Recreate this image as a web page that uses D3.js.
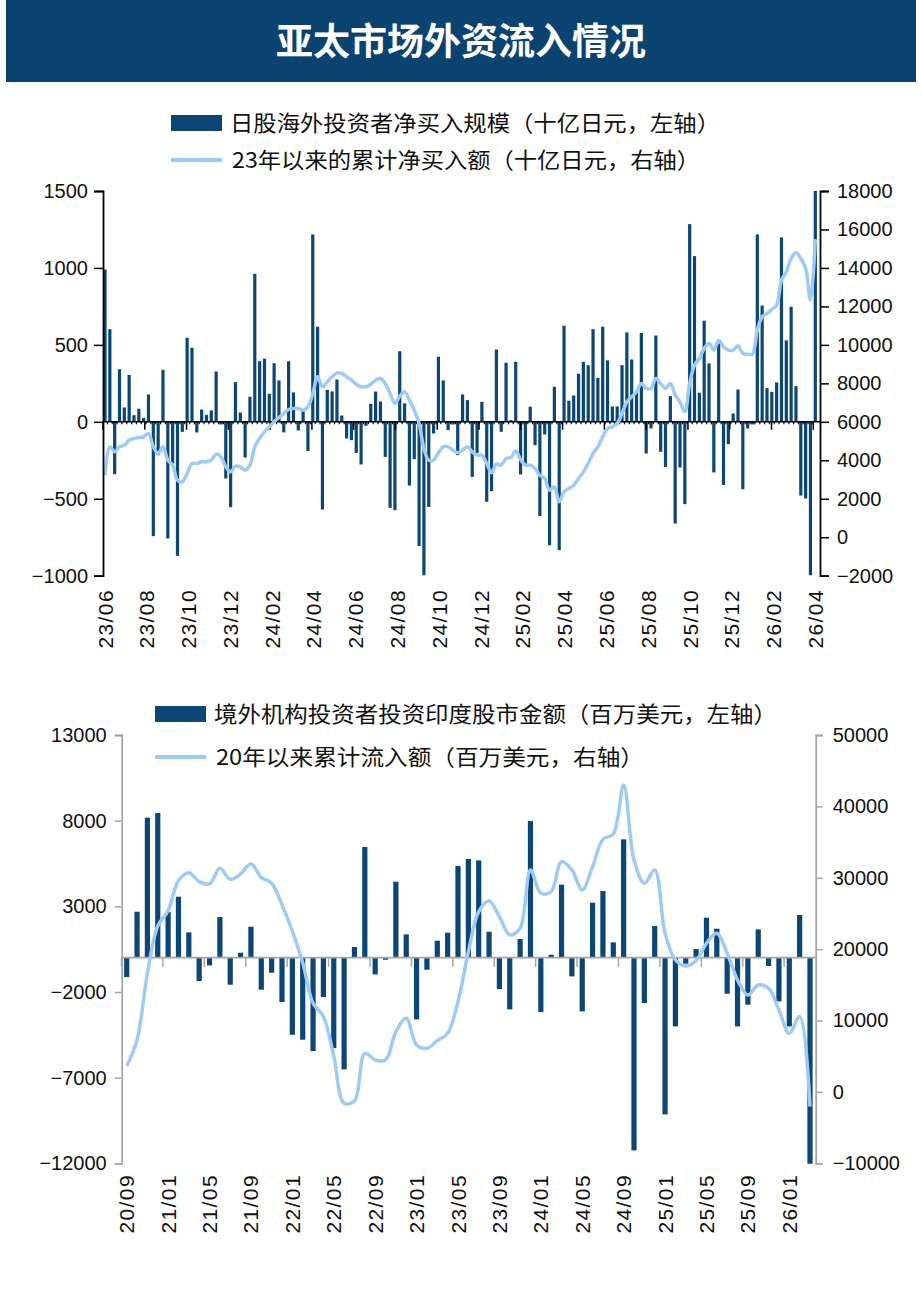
<!DOCTYPE html>
<html><head><meta charset="utf-8">
<script src="https://cdn.jsdelivr.net/npm/d3@7"></script>
<style>
body{margin:0;background:#fff}
svg{display:block}
.num{font-family:"Liberation Sans",Arial,sans-serif;font-size:20px;fill:#111}
.xl{font-size:21px;letter-spacing:1.4px}
.cjk{font-family:"Noto Sans CJK SC","Noto Sans",sans-serif;fill:#111}
</style>
</head><body><svg id="c" width="922" height="1308"></svg>
<script>
// ---------- Data: Japan (weekly, 十亿日元) ----------
const jpFlows = [990,602,-340,342,93,305,43,85,26,178,-743,-217,338,-758,-270,-871,-65,546,481,-69,
80,45,74,327,-17,-368,-555,258,61,-232,163,962,394,410,182,381,269,-69,394,191,
-56,76,-189,1218,618,-570,208,197,275,41,-108,-119,-202,-277,-26,117,197,132,-228,-559,
-574,459,120,-414,-243,-807,-997,-553,-76,423,269,-54,-17,-217,178,141,-358,-202,130,-520,
-451,470,-65,384,11,390,-342,-286,98,-152,-613,-82,-802,228,-834,624,137,171,312,390,
368,602,286,618,399,100,100,368,581,405,202,578,-206,-43,561,-195,-293,167,-661,-297,
-535,1285,1077,189,657,379,-329,509,-410,-145,54,210,-438,-43,-17,1218,756,219,195,256,
1198,529,748,232,-479,-498,-997,1500];
const jpCum = [3227,4700,4440,4700,4787,5047,5133,5185,5220,5393,4700,4353,4700,4007,3747,2967,2880,3313,3833,3833,
3920,3920,4007,4319,4180,3660,3400,3695,3660,3487,3747,4700,5133,5480,5740,6000,6225,6433,6641,6693,
6693,6607,6780,7473,8340,7820,8080,8340,8548,8513,8340,8166,7958,7820,7820,7958,8166,8253,7993,7473,
6953,7334,7560,7127,6607,5913,4613,4007,4007,4388,4700,4700,4527,4388,4527,4700,4440,4267,4267,3833,
3349,3799,3747,4093,4146,4492,4042,3747,3747,3574,3227,3054,2447,2621,1840,2361,2534,2707,3054,3400,
3833,4353,4700,5220,5653,5740,5913,6433,7040,7300,7560,7993,7733,7733,8253,7993,7733,7993,7386,7040,
6520,7993,8946,9293,9813,10073,9726,10246,9900,9726,9726,9951,9553,9518,9518,10766,11459,11632,11840,12066,
13365,13799,14492,14787,14492,13972,12326,15500];
const jpTickLabels = ["23/06","23/08","23/10","23/12","24/02","24/04","24/06","24/08","24/10","24/12",
"25/02","25/04","25/06","25/08","25/10","25/12","26/02","26/04"];
const jpLeftTicks = [-1000,-500,0,500,1000,1500];
const jpRightTicks = [-2000,0,2000,4000,6000,8000,10000,12000,14000,16000,18000];

// ---------- Data: India (monthly, 百万美元) ----------
const inFlows = [-1129,2685,8173,8446,2666,3561,1479,-1362,-448,2374,-1576,292,1810,-1868,-876,-2588,
-4495,-4787,-5449,-2296,-5274,-6519,623,6461,-973,-117,4437,1362,-3600,-700,992,1460,5352,5760,5682,
1518,-1829,-3016,1090,7979,-3172,175,4262,-1090,-3133,3211,3892,895,6908,-11248,-2647,1849,-9146,
-4009,-350,506,2335,1693,-2102,-4009,-2744,1654,-487,-2549,-4009,2491,-12026];
const inCum = [3637,7279,16617,23247,25395,29597,30717,29456,29130,31324,29783,30530,31931,30063,29223,26200,
22546,18111,12415,10547,5037,-1592,-1266,5411,4477,4477,8446,10313,6578,6111,7185,8212,12648,19600,25254,
26748,24554,21986,22920,31091,27823,28056,32258,31091,28289,31557,35386,36133,42997,32492,29223,31091,22219,
18485,17644,18391,20819,22219,19418,15683,13582,14983,14516,11481,8212,10547,-2059];
const inTickLabels = ["20/09","21/01","21/05","21/09","22/01","22/05","22/09","23/01","23/05","23/09",
"24/01","24/05","24/09","25/01","25/05","25/09","26/01"];
const inLeftTicks = [-12000,-7000,-2000,3000,8000,13000];
const inRightTicks = [-10000,0,10000,20000,30000,40000,50000];

const BAR = "#0b4674", LINE = "#9ecbf5", HEAD = "#0a4370";
const svg = d3.select("#c");

// ---------- Header ----------
svg.append("rect").attr("x",6).attr("y",0).attr("width",910).attr("height",82).attr("fill",HEAD);
svg.append("text").attr("x",461).attr("y",42).attr("dy","0.36em").attr("text-anchor","middle")
  .attr("class","cjk").style("fill","#fff").style("font-size","37px").style("font-weight","bold")
  .text("亚太市场外资流入情况");

function legend(y1, y2, x, t1, t2, w1, w2){
  svg.append("rect").attr("x",x).attr("y",y1-8).attr("width",51).attr("height",16).attr("fill",BAR);
  svg.append("text").attr("class","cjk").attr("x",x+59).attr("y",y1).attr("dy","0.36em")
    .style("font-size","22px").attr("textLength",w1).attr("lengthAdjust","spacingAndGlyphs").text(t1);
  svg.append("line").attr("x1",x).attr("x2",x+51).attr("y1",y2).attr("y2",y2)
    .attr("stroke",LINE).attr("stroke-width",4);
  svg.append("text").attr("class","cjk").attr("x",x+61).attr("y",y2).attr("dy","0.36em")
    .style("font-size","22px").attr("textLength",w2).attr("lengthAdjust","spacingAndGlyphs").text(t2);
}

// ---------- Chart 1 : Japan ----------
(function(){
  const top=191, bot=575.7, left=103, right=820;
  const x = d3.scaleLinear().domain([0, jpFlows.length-1]).range([105, 815.3]);
  const yL = d3.scaleLinear().domain([-1000,1500]).range([bot, top]);
  const yR = d3.scaleLinear().domain([-2000,18000]).range([bot, top]);
  legend(123, 160, 171, "日股海外投资者净买入规模（十亿日元，左轴）", "23年以来的累计净买入额（十亿日元，右轴）", 490, 468);

  const g = svg.append("g");
  g.selectAll("rect.b").data(jpFlows).join("rect").attr("class","b")
    .attr("x",(d,i)=>x(i)-1.6).attr("width",3.2)
    .attr("y",d=>yL(Math.max(0,d))).attr("height",d=>Math.abs(yL(d)-yL(0)))
    .attr("fill",BAR);

  g.append("line").attr("x1",left).attr("x2",right).attr("y1",yL(0)).attr("y2",yL(0))
    .attr("stroke","#000").attr("stroke-width",1.5);
  g.selectAll("line.mt").data(jpFlows).join("line").attr("class","mt")
    .attr("x1",(d,i)=>x(i)-2.4).attr("x2",(d,i)=>x(i)-2.4)
    .attr("y1",yL(0)).attr("y2",yL(0)+2.5).attr("stroke","#000").attr("stroke-width",1.2);
  const step = (jpFlows.length-1)/(jpTickLabels.length-1);
  g.selectAll("line.Mt").data(jpTickLabels).join("line").attr("class","Mt")
    .attr("x1",(d,i)=>x(i*step)-2).attr("x2",(d,i)=>x(i*step)-2)
    .attr("y1",yL(0)).attr("y2",yL(0)+8).attr("stroke","#000").attr("stroke-width",1.5);

  g.append("path").datum(jpCum)
    .attr("d", d3.line().x((d,i)=>x(i)).y(d=>yR(d)).curve(d3.curveCatmullRom.alpha(0.5)))
    .attr("fill","none").attr("stroke",LINE).attr("stroke-width",3.5).attr("stroke-linejoin","round");

  const aL = svg.append("g").attr("transform",`translate(${left},0)`)
    .call(d3.axisLeft(yL).tickValues(jpLeftTicks).tickSize(9).tickPadding(6).tickFormat(d=>d<0?"\u2212"+Math.abs(d):d));
  const aR = svg.append("g").attr("transform",`translate(${right},0)`)
    .call(d3.axisRight(yR).tickValues(jpRightTicks).tickSize(9).tickPadding(8).tickFormat(d=>d<0?"\u2212"+Math.abs(d):d));
  [aL,aR].forEach(a=>{
    a.select(".domain").attr("stroke","#000").attr("stroke-width",1.8);
    a.selectAll(".tick line").attr("stroke","#000").attr("stroke-width",1.5);
    a.selectAll(".tick text").attr("class","num").attr("font-size",null).attr("font-family",null);
  });

  svg.selectAll("text.xl1").data(jpTickLabels).join("text").attr("class","num xl xl1")
    .attr("transform",(d,i)=>`translate(${x(i*step)},589) rotate(-90)`)
    .attr("text-anchor","end").attr("dy","0.36em").text(d=>d);
})();

// ---------- Chart 2 : India ----------
(function(){
  const top=735, bot=1163.3, left=121.7, right=815.7;
  const x = d3.scaleLinear().domain([0, inFlows.length-1]).range([126.7, 810]);
  const bw = x(1)-x(0);
  const yL = d3.scaleLinear().domain([-12000,13000]).range([bot, top]);
  const yR = d3.scaleLinear().domain([-10000,50000]).range([bot, top]);
  legend(714, 757, 155, "境外机构投资者投资印度股市金额（百万美元，左轴）", "20年以来累计流入额（百万美元，右轴）", 563, 428);

  const g = svg.append("g");
  g.selectAll("rect.b").data(inFlows).join("rect").attr("class","b")
    .attr("x",(d,i)=>x(i)-2.6).attr("width",5.2)
    .attr("y",d=>yL(Math.max(0,d))).attr("height",d=>Math.abs(yL(d)-yL(0)))
    .attr("fill",BAR);

  g.append("line").attr("x1",left).attr("x2",right).attr("y1",yL(0)).attr("y2",yL(0))
    .attr("stroke","#a6a6a6").attr("stroke-width",1.8);
  g.selectAll("line.Mt").data(inTickLabels).join("line").attr("class","Mt")
    .attr("x1",(d,i)=>x(i*4)-bw/2).attr("x2",(d,i)=>x(i*4)-bw/2)
    .attr("y1",yL(0)).attr("y2",yL(0)+9).attr("stroke","#a6a6a6").attr("stroke-width",1.5);

  g.append("path").datum(inCum)
    .attr("d", d3.line().x((d,i)=>x(i)).y(d=>yR(d)).curve(d3.curveCatmullRom.alpha(0.5)))
    .attr("fill","none").attr("stroke",LINE).attr("stroke-width",3.5).attr("stroke-linejoin","round");

  const aL = svg.append("g").attr("transform",`translate(${left},0)`)
    .call(d3.axisLeft(yL).tickValues(inLeftTicks).tickSize(7).tickPadding(8).tickFormat(d=>d<0?"\u2212"+Math.abs(d):d));
  const aR = svg.append("g").attr("transform",`translate(${right},0)`)
    .call(d3.axisRight(yR).tickValues(inRightTicks).tickSize(7).tickPadding(10).tickFormat(d=>d<0?"\u2212"+Math.abs(d):d));
  [aL,aR].forEach(a=>{
    a.select(".domain").attr("stroke","#a6a6a6").attr("stroke-width",1.8);
    a.selectAll(".tick line").attr("stroke","#a6a6a6").attr("stroke-width",1.5);
    a.selectAll(".tick text").attr("class","num").attr("font-size",null).attr("font-family",null);
  });

  svg.selectAll("text.xl2").data(inTickLabels).join("text").attr("class","num xl xl2")
    .attr("transform",(d,i)=>`translate(${x(i*4)},1174) rotate(-90)`)
    .attr("text-anchor","end").attr("dy","0.36em").text(d=>d);
})();
</script>
</body></html>
